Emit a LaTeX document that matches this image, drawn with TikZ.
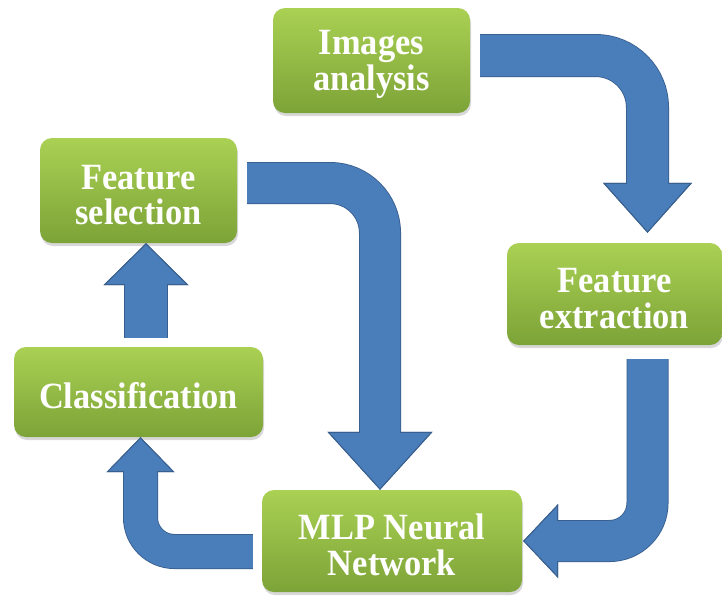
\documentclass[tikz,border=0pt]{standalone}
\usepackage{fontspec}
\newfontfamily\boxfont{Liberation Serif}[FakeStretch=0.93]
\usetikzlibrary{arrows.meta,shadows}
\definecolor{gtop}{HTML}{AAD153}
\definecolor{gbot}{HTML}{7CA337}
\definecolor{ablue}{HTML}{4A7EBB}
\definecolor{adark}{HTML}{385F8E}
\newcommand{\upstrut}{\rule{0pt}{33pt}}
\begin{document}
\begin{tikzpicture}[x=1pt,y=-1pt,
  box/.style={rounded corners=12pt, top color=gtop, bottom color=gbot, draw=none,
    text=white, font=\boxfont\bfseries\fontsize{37}{35.5}\selectfont, align=center, inner sep=0pt,
    text depth=0pt,
    drop shadow={opacity=0.3,shadow xshift=1pt,shadow yshift=-3pt}},
  barrow/.style n args={5}{draw=ablue, line width=#1, rounded corners=#5,
    arrows={-Triangle[width=#3,length=#4,line width=1pt,color=adark,fill=ablue]},
    preaction={draw=adark, line width=#2},
    postaction={draw=ablue, line width=#1, arrows=-, shorten >=#4-2pt}}
]
\fill[white] (0,0) rectangle (722,595);
\useasboundingbox (0,0) rectangle (722,595);

\node[box, minimum width=197pt, minimum height=105pt] (ia) at (371.5,60.5) {Images\\analysis};
\node[box, minimum width=197pt, minimum height=105pt] (fs) at (138.5,190.5) {\upstrut Feature\\selection};
\node[box, minimum width=215pt, minimum height=102pt] (fe) at (614.5,294) {\upstrut Feature\\extraction};
\node[box, minimum width=249pt, minimum height=90pt] (cls) at (138.5,392) {\upstrut Classification};
\node[box, minimum width=260pt, minimum height=102pt] (mlp) at (392,541) {\upstrut MLP Neural\\Network};

\draw[barrow={41pt}{43pt}{89pt}{50pt}{52pt}] ([xshift=10pt,yshift=5pt]ia.east) -| ([xshift=33pt,yshift=10pt]fe.north);
\draw[barrow={40pt}{42pt}{105pt}{58pt}{50pt}] ([xshift=10pt,yshift=7.5pt]fs.east) -| ([xshift=-12pt]mlp.north);
\draw[barrow={40pt}{42pt}{74pt}{35pt}{38pt}] ([xshift=33pt,yshift=-14pt]fe.south) |- ([xshift=1pt]mlp.east);
\draw[barrow={33pt}{35pt}{68pt}{35pt}{34pt}] ([xshift=-9pt,yshift=-10.5pt]mlp.west) -| ([xshift=2pt]cls.south);
\draw[barrow={42pt}{44pt}{85pt}{42pt}{0pt}] ([xshift=7.5pt,yshift=9pt]cls.north) -- ([xshift=7.5pt]fs.south);
\end{tikzpicture}
\end{document}
